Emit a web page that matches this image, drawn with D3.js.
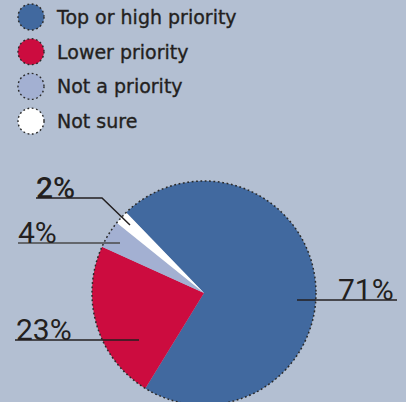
<!DOCTYPE html>
<html>
<head>
<meta charset="utf-8">
<script src="https://cdn.jsdelivr.net/npm/d3@7"></script>
<style>
	body{margin:0;background:#b3bfd2;}
	svg{display:block;}
</style>
</head>
<body>
<svg id="chart" width="406" height="402"></svg>
<script>
const categories = ["Top or high priority", "Lower priority", "Not a priority", "Not sure"];
const values = [71, 23, 4, 2];
const colors = ["#41699f", "#cc0c3f", "#a3b0d2", "#ffffff"];
const valueLabels = ["71%", "23%", "4%", "2%"];

const width = 406;
const height = 402;
const center = {x: 204, y: 293};
const radius = 112;
const startDeg = -44;

// label layout: text start, baseline, line start/end, optional leader end
const labelLayout = [
	{tx: 338, ty: 300, lx1: 297, lx2: 397, end: null, weight: 400},
	{tx: 16, ty: 340, lx1: 15, lx2: 139, end: null, weight: 400},
	{tx: 18, ty: 243, lx1: 18, lx2: 120, end: null, weight: 400, stroke: "#4a4a4a"},
	{tx: 36, ty: 198, lx1: 36, lx2: 102, end: [130, 225], weight: 500}
];

var svg = d3.select("#chart")
	.attr("viewBox", [0, 0, width, height]);

svg.append("rect")
	.attr("width", width)
	.attr("height", height)
	.attr("fill", "#b3bfd2");

//legend
var legend = svg.selectAll(".legend")
	.data(categories)
	.enter()
	.append("g")
		.attr("class", "legend")
		.attr("transform", (d, i) => "translate(31," + (17 + i * 34.7) + ")");

legend.append("circle")
	.attr("r", 13)
	.attr("fill", (d, i) => colors[i])
	.attr("stroke", "#2a2a2a")
	.attr("stroke-width", 1.4)
	.attr("stroke-dasharray", "1.8,2.6");

legend.append("text")
	.attr("x", 26)
	.attr("y", 7)
	.style("font", "19px 'DejaVu Sans'")
	.style("fill", "#231f20")
	.style("stroke", "#231f20")
	.style("stroke-width", 0.35)
	.text(d => d);

//pie
var pie = d3.pie()
	.sort(null)
	.startAngle(startDeg * Math.PI / 180)
	.endAngle(startDeg * Math.PI / 180 + 2 * Math.PI);

var arc = d3.arc()
	.innerRadius(0)
	.outerRadius(radius);

var g = svg.append("g")
	.attr("transform", "translate(" + center.x + "," + center.y + ")");

g.selectAll(".slice")
	.data(pie(values))
	.enter()
	.append("path")
		.attr("class", "slice")
		.attr("fill", (d, i) => colors[i])
		.attr("d", arc);

g.append("circle")
	.attr("r", radius)
	.attr("fill", "none")
	.attr("stroke", "#2a2a2a")
	.attr("stroke-width", 1.5)
	.attr("stroke-dasharray", "1.8,2.6");

//leader lines and value labels
labelLayout.forEach(function(l, i){
	var pts = [[l.lx1, l.ty], [l.lx2, l.ty]];
	if(l.end) pts.push(l.end);
	svg.append("path")
		.attr("fill", "none")
		.attr("stroke", l.stroke || "#231f20")
		.attr("stroke-width", 1.5)
		.attr("d", d3.line()(pts));
	svg.append("text")
		.attr("x", l.tx)
		.attr("y", l.ty)
		.style("font", l.weight + " 30px Roboto")
		.style("fill", "#231f20")
		.text(valueLabels[i]);
});
</script>
</body>
</html>
